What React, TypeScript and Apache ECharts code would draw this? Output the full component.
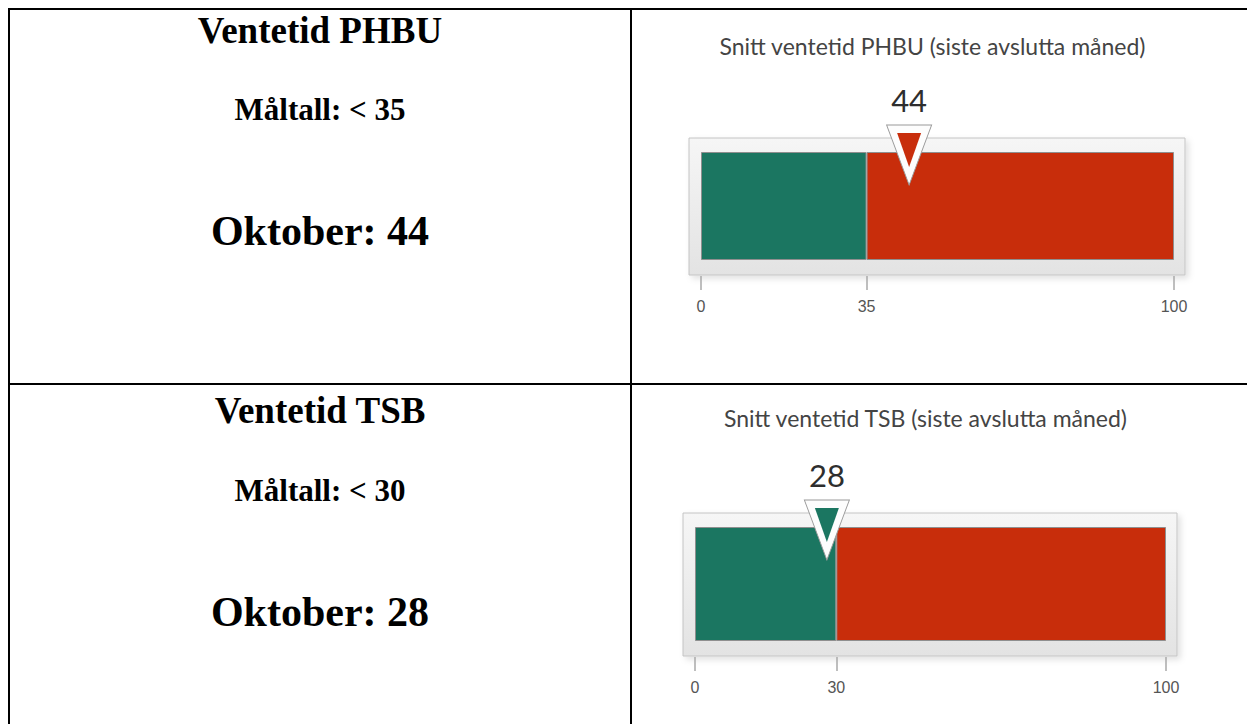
import React, { useEffect, useRef } from "react";
import * as echarts from "echarts";

// ---- data ----
const gaugeNames = ["PHBU", "TSB"];
const headings = ["Ventetid PHBU", "Ventetid TSB"];
const targetLabels = ["Måltall: < 35", "Måltall: < 30"];
const monthLabel = "Oktober";
const gaugeTitles = [
  "Snitt ventetid PHBU (siste avslutta måned)",
  "Snitt ventetid TSB (siste avslutta måned)",
];
const targets = [35, 30];
const values = [44, 28];
const scaleMin = [0, 0];
const scaleMax = [100, 100];

// ---- layout / style ----
const GREEN = "#1b7661";
const RED = "#c82d0b";
const grids = [
  { left: 701, top: 152, width: 473, height: 108 },
  { left: 695, top: 527, width: 471, height: 114 },
];
const titleY = [46, 418];
const leftCenterX = 320;
const leftRows = [
  { head: 30, target: 109, month: 231 },
  { head: 410, target: 490, month: 612 },
];

const TRI = "path://M0,0L45,0L22.5,60Z";

export default function App() {
  const ref = useRef<HTMLDivElement>(null);
  useEffect(() => {
    if (!ref.current) return;
    const chart = echarts.init(ref.current, undefined, { renderer: "svg" });

    const graphic: any[] = [];
    // table lines
    const lineStyle = { stroke: "#000", lineWidth: 2 };
    graphic.push(
      { type: "line", shape: { x1: 8, y1: 9, x2: 1247, y2: 9 }, style: lineStyle },
      { type: "line", shape: { x1: 9, y1: 8, x2: 9, y2: 724 }, style: lineStyle },
      { type: "line", shape: { x1: 631, y1: 8, x2: 631, y2: 724 }, style: lineStyle },
      { type: "line", shape: { x1: 8, y1: 384, x2: 1247, y2: 384 }, style: lineStyle }
    );
    // left texts
    leftRows.forEach((r, i) => {
      const mk = (text: string, y: number, size: number) => ({
        type: "text",
        x: leftCenterX,
        y,
        style: {
          text,
          fill: "#000",
          fontFamily: "Liberation Serif",
          fontWeight: "bold",
          fontSize: size,
          align: "center",
          verticalAlign: "middle",
        },
      });
      graphic.push(mk(headings[i], r.head, 37));
      graphic.push(mk(targetLabels[i], r.target, 31));
      graphic.push(mk(`${monthLabel}: ${values[i]}`, r.month, 42));
    });
    // gauge frames + titles
    grids.forEach((g, i) => {
      graphic.push({
        type: "rect",
        z: -1,
        shape: { x: g.left - 12, y: g.top - 14, width: g.width + 23, height: g.height + 15 + 14 },
        style: {
          fill: new echarts.graphic.LinearGradient(0, 0, 0, 1, [
            { offset: 0, color: "#f6f6f6" },
            { offset: 1, color: "#e3e3e3" },
          ]),
          stroke: "#c4c4c4",
          lineWidth: 1,
          shadowBlur: 6,
          shadowOffsetX: 3,
          shadowOffsetY: 3,
          shadowColor: "rgba(0,0,0,0.12)",
        },
      });
      graphic.push({
        type: "text",
        x: g.left + g.width / 2 - 5,
        y: titleY[i],
        style: {
          text: gaugeTitles[i],
          fill: "#444",
          fontFamily: "Lato",
          fontSize: 23,
          align: "center",
          verticalAlign: "middle",
        },
      });
    });

    const series: any[] = [];
    grids.forEach((g, i) => {
      const barStyle = { borderColor: "#8f8f8f", borderWidth: 1 };
      series.push({
        type: "bar",
        xAxisIndex: i,
        yAxisIndex: i,
        stack: "s" + i,
        barWidth: "100%",
        data: [targets[i] - scaleMin[i]],
        itemStyle: { color: GREEN, ...barStyle },
      });
      series.push({
        type: "bar",
        xAxisIndex: i,
        yAxisIndex: i,
        stack: "s" + i,
        barWidth: "100%",
        data: [scaleMax[i] - targets[i]],
        itemStyle: { color: RED, ...barStyle },
      });
      series.push({
        type: "scatter",
        xAxisIndex: i,
        yAxisIndex: i,
        data: [[values[i], gaugeNames[i]]],
        symbol: TRI,
        symbolKeepAspect: false,
        symbolSize: [45, 60],
        symbolOffset: [0, 3 - g.height / 2],
        itemStyle: { color: "#fdfdfd", borderColor: "#9a9a9a", borderWidth: 1, opacity: 1 },
        label: {
          show: true,
          position: "top",
          distance: 9,
          formatter: (p: any) => String(p.value[0]),
          fontFamily: "Lato",
          fontSize: 31,
          color: "#2e2e2e",
        },
        z: 5,
      });
      series.push({
        type: "scatter",
        xAxisIndex: i,
        yAxisIndex: i,
        data: [[values[i], gaugeNames[i]]],
        symbol: TRI,
        symbolKeepAspect: false,
        symbolSize: [24, 34],
        symbolOffset: [0, -2 - g.height / 2],
        itemStyle: { color: values[i] > targets[i] ? RED : GREEN, opacity: 1 },
        z: 6,
      });
    });

    chart.setOption({
      animation: false,
      backgroundColor: "#fff",
      graphic,
      grid: grids.map((g) => ({ ...g, containLabel: false })),
      xAxis: grids.map((_, i) => ({
        type: "value",
        gridIndex: i,
        min: scaleMin[i],
        max: scaleMax[i],
        offset: 16,
        axisLine: { show: false },
        splitLine: { show: false },
        axisTick: {
          show: true,
          length: 14,
          customValues: [scaleMin[i], targets[i], scaleMax[i]],
          lineStyle: { color: "#a8a8a8", width: 1.5 },
        },
        axisLabel: {
          show: true,
          customValues: [scaleMin[i], targets[i], scaleMax[i]],
          margin: 22,
          color: "#555",
          fontSize: 16,
          fontFamily: "Liberation Sans",
        },
      })),
      yAxis: grids.map((_, i) => ({
        type: "category",
        gridIndex: i,
        data: [gaugeNames[i]],
        show: false,
      })),
      series,
    });
    return () => chart.dispose();
  }, []);
  return (
    <div
      ref={ref}
      style={{ position: "absolute", left: 0, top: 0, width: 1247, height: 724 }}
    />
  );
}
